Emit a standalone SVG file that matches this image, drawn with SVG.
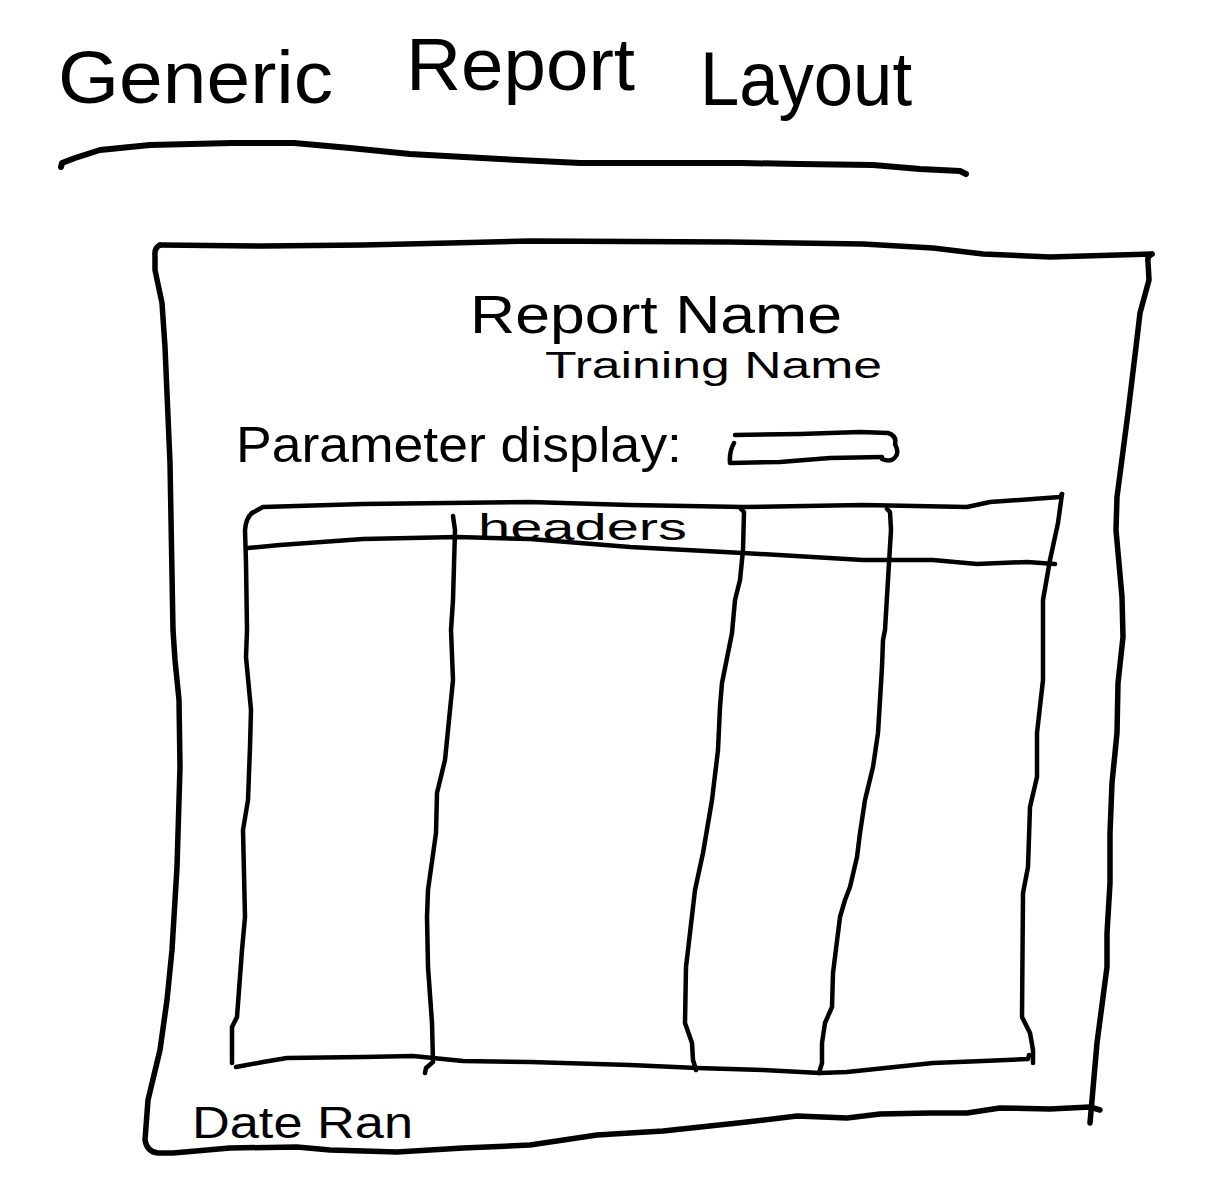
<svg xmlns="http://www.w3.org/2000/svg" width="1206" height="1194" viewBox="0 0 1206 1194">
  <style>
    .ink { fill: none; stroke: #000; stroke-linecap: round; stroke-linejoin: round; }
    .heavy { stroke-width: 5.5; }
    .mid { stroke-width: 4.5; }
    .hand { font-family: "Liberation Sans", Arial, sans-serif; fill: #000; }
  </style>
  <rect width="1206" height="1194" fill="#fff"/>

  <!-- page title and its underline -->
  <g id="title">
    <text class="hand" x="58" y="103" font-size="74" textLength="275" lengthAdjust="spacingAndGlyphs">Generic</text>
    <text class="hand" x="406" y="90" font-size="74" textLength="229" lengthAdjust="spacingAndGlyphs">Report</text>
    <text class="hand" x="700" y="105" font-size="76" textLength="212" lengthAdjust="spacingAndGlyphs">Layout</text>
    <path class="ink" stroke-width="6" d="M61,167 L62,163 L75,158 L100,150 L150,145 L232,143 L294,143 L350,148 L410,154 L500,159 L580,163 L742,163 L800,164 L873,165 L920,169 L960,171 L966,174"/>
  </g>

  <!-- outer page frame -->
  <g id="page-frame">
    <path class="ink heavy" d="M160,245 L263,246 L363,245 L450,243 L530,241 L730,242 L863,244 L933,248 L983,254 L1050,257 L1152,254"/>
    <path class="ink heavy" d="M160,245 Q154,248 155,256 L155,270 L162,303 L165,347 L170,463 L173,630 L175,660 L179,700 L180,767 L177,867 L172,950 L167,1000 L160,1050 L148,1100 L145,1140 Q147,1152 158,1153 L173,1153 L230,1148 L297,1147 L330,1150 L397,1152 L463,1148 L530,1145 L597,1135 L663,1131 L747,1122 L797,1116 L847,1118 L880,1114 L930,1113 L967,1113 L1000,1108 L1050,1109 L1090,1107 L1100,1110"/>
    <path class="ink heavy" d="M1152,254 Q1147,256 1148,262 L1149,280 L1140,313 L1136,347 L1128,413 L1117,497 L1116,530 L1122,597 L1123,637 L1118,683 L1117,733 L1112,783 L1110,833 L1110,883 L1107,933 L1107,967 L1097,1043 L1090,1123"/>
  </g>

  <!-- report heading -->
  <g id="report-heading">
    <text class="hand" x="470" y="333" font-size="54" textLength="372" lengthAdjust="spacingAndGlyphs">Report Name</text>
    <text class="hand" x="545" y="378" font-size="36" textLength="337" lengthAdjust="spacingAndGlyphs">Training Name</text>
  </g>

  <!-- parameter label and value field -->
  <g id="parameter">
    <text class="hand" x="236" y="462" font-size="50" textLength="446" lengthAdjust="spacingAndGlyphs">Parameter display:</text>
    <path class="ink mid" d="M735,435 L800,434 L860,432 L888,433 Q897,436 895,444 Q899,452 896,456 Q892,463 882,459"/>
    <path class="ink mid" d="M734,443 Q729,452 730,463 L780,462 L830,458 L882,457"/>
  </g>

  <!-- data table -->
  <g id="table">
    <path class="ink mid" d="M252,513 L263,507 L363,504 L530,502 L630,505 L743,507 L863,505 L967,507 L990,502 L1060,497 L1062,494"/>
    <path class="ink mid" d="M252,513 Q246,518 245,530 L246,563 L247,630 L246,657 L251,710 L250,747 L248,800 L243,830 L245,917 L242,950 L237,1017 L232,1027 L232,1063"/>
    <path class="ink mid" d="M1062,494 L1058,523 L1050,560 L1043,600 L1043,680 L1037,733 L1037,777 L1030,807 L1028,867 L1023,893 L1022,1017 L1030,1033 L1033,1050 L1033,1063"/>
    <path class="ink mid" d="M236,1067 L263,1062 L287,1058 L363,1057 L413,1056 L433,1058 L463,1061 L530,1062 L630,1065 L697,1068 L763,1070 L820,1073 L847,1072 L933,1063 L983,1061 L1028,1059 L1029,1055"/>
    <path class="ink mid" d="M248,548 L280,545 L363,539 L457,537 L530,539 L630,547 L743,553 L863,560 L933,560 L977,564 L1027,562 L1055,564"/>
    <path class="ink mid" d="M453,516 L455,530 L453,600 L451,630 L453,680 L445,760 L437,793 L436,833 L428,890 L427,917 L428,967 L432,1023 L433,1062 L426,1068 L425,1073"/>
    <path class="ink mid" d="M741,509 L744,512 L743,550 L740,580 L735,600 L732,633 L722,683 L720,707 L718,750 L712,800 L703,853 L695,890 L690,933 L686,967 L685,1023 L692,1043 L693,1060 L696,1070"/>
    <path class="ink mid" d="M887,509 L890,512 L891,530 L889,563 L885,630 L883,640 L882,667 L878,733 L873,767 L865,800 L860,833 L857,857 L850,887 L845,900 L840,917 L833,973 L832,1007 L825,1023 L822,1043 L822,1063 L819,1073"/>
    <text class="hand" x="478" y="540" font-size="36" textLength="209" lengthAdjust="spacingAndGlyphs">headers</text>
  </g>

  <!-- footer -->
  <g id="footer">
    <text class="hand" x="192" y="1138" font-size="44" textLength="221" lengthAdjust="spacingAndGlyphs">Date Ran</text>
  </g>
</svg>
